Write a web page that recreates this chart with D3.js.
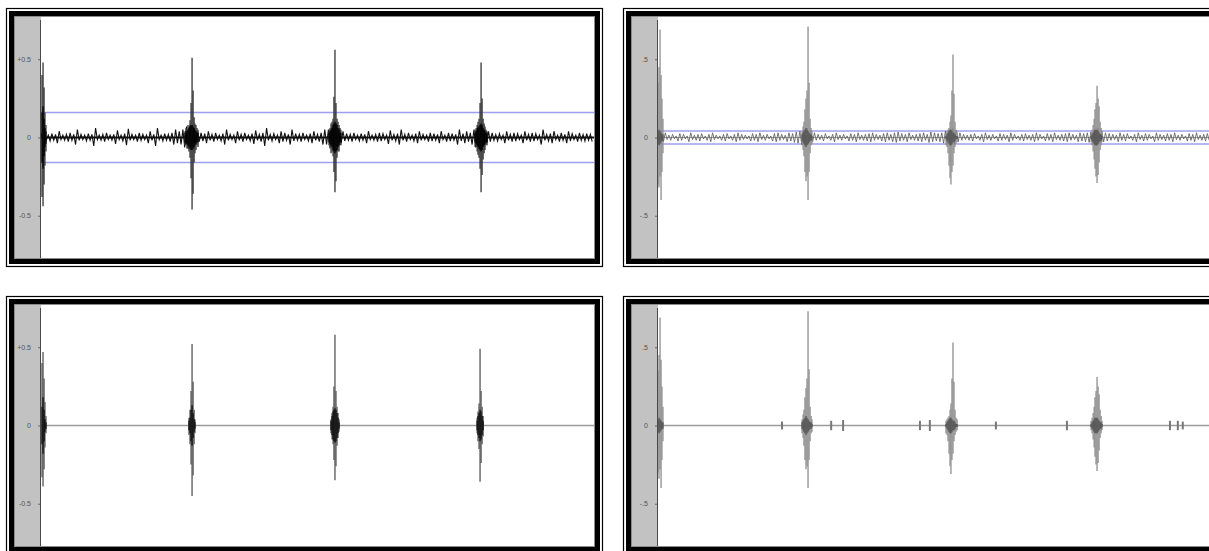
<!DOCTYPE html>
<html>
<head>
<meta charset="utf-8">
<script src="https://cdn.jsdelivr.net/npm/d3@7"></script>
<style>
  html, body { margin: 0; background: #fff; overflow: hidden; }
  svg { display: block; }
</style>
</head>
<body>
<svg id="chart" width="1209" height="551"></svg>
<script>
// ---- time / amplitude axes ----
const timeDomainMs = [0, 3800];
const ampDomain = [-0.77, 0.77];
const tickValues = [-0.5, 0, 0.5];
const leftTickLabels = ["-0.5", "0", "+0.5"];
const rightTickLabels = ["-.5", "0", ".5"];
const noiseStepMs = 25;

// ---- background noise peaks, one value per 25 ms (raw tracks) ----
const rawNoiseLeft = [
  0.03,0.02,0.015,0.025,0.02,0.04,0.015,0.02,0.03,0.02,
  0.05,0.02,0.015,0.025,0.02,0.06,0.015,0.02,0.03,0.015,
  0.02,0.045,0.015,0.025,0.055,0.02,0.015,0.03,0.02,0.015,
  0.04,0.02,0.06,0.015,0.025,0.02,0.03,0.05,0.04,0.05,
  0.07,0.08,0.06,0.04,0.03,0.025,0.04,0.02,0.03,0.015,
  0.025,0.05,0.02,0.015,0.04,0.02,0.03,0.015,0.025,0.045,
  0.02,0.03,0.06,0.02,0.025,0.015,0.04,0.03,0.02,0.05,
  0.025,0.02,0.03,0.015,0.025,0.04,0.02,0.03,0.05,0.05,
  0.07,0.09,0.06,0.04,0.025,0.02,0.03,0.015,0.025,0.02,
  0.04,0.015,0.02,0.03,0.025,0.015,0.045,0.02,0.025,0.05,
  0.02,0.03,0.015,0.025,0.04,0.02,0.015,0.03,0.025,0.02,
  0.04,0.015,0.03,0.025,0.02,0.05,0.025,0.04,0.03,0.05,
  0.07,0.08,0.05,0.04,0.03,0.02,0.025,0.015,0.04,0.02,
  0.03,0.025,0.015,0.04,0.02,0.03,0.025,0.015,0.05,0.02,
  0.025,0.04,0.015,0.03,0.02,0.04,0.025,0.015,0.03,0.02,
  0.025,0.02
];
const rawNoiseRight = [
  0.02,0.01,0.03,0.015,0.02,0.01,0.025,0.02,0.01,0.03,
  0.015,0.02,0.025,0.01,0.02,0.03,0.015,0.01,0.02,0.025,
  0.01,0.02,0.03,0.02,0.015,0.01,0.025,0.02,0.03,0.015,
  0.02,0.01,0.025,0.03,0.02,0.015,0.03,0.025,0.035,0.04,
  0.05,0.06,0.04,0.03,0.02,0.015,0.025,0.01,0.02,0.03,
  0.015,0.02,0.01,0.025,0.02,0.03,0.015,0.02,0.025,0.03,
  0.02,0.015,0.025,0.03,0.02,0.03,0.035,0.025,0.02,0.03,
  0.015,0.02,0.025,0.03,0.02,0.035,0.03,0.025,0.03,0.04,
  0.05,0.06,0.045,0.03,0.02,0.015,0.02,0.025,0.01,0.02,
  0.03,0.015,0.02,0.01,0.025,0.02,0.015,0.03,0.02,0.01,
  0.02,0.025,0.015,0.02,0.03,0.02,0.01,0.025,0.02,0.03,
  0.015,0.02,0.025,0.03,0.02,0.015,0.03,0.025,0.03,0.035,
  0.05,0.06,0.04,0.03,0.025,0.02,0.015,0.03,0.02,0.025,
  0.01,0.02,0.03,0.015,0.025,0.02,0.01,0.03,0.02,0.015,
  0.025,0.02,0.03,0.015,0.02,0.01,0.025,0.02,0.03,0.015,
  0.02,0.025
];

// ---- beat envelopes: [time ms, peak, trough, dense core half-height] ----
const rawBeatsLeft = [
  [7,0.40,-0.38,0.16],[14,0.48,-0.44,0.20],[21,0.32,-0.30,0.12],[27,0.16,-0.18,0.06],[34,0.08,-0.09,0.04],
  [990,0.04,-0.05,0.03],[997,0.06,-0.05,0.04],[1003,0.05,-0.07,0.04],[1010,0.08,-0.07,0.05],[1017,0.07,-0.09,0.06],
  [1024,0.11,-0.13,0.07],[1031,0.22,-0.26,0.08],[1038,0.51,-0.46,0.08],[1045,0.30,-0.36,0.07],[1052,0.13,-0.16,0.06],
  [1058,0.09,-0.10,0.05],[1065,0.08,-0.08,0.04],[1072,0.06,-0.05,0.03],[1079,0.05,-0.06,0.03],
  [1979,0.05,-0.05,0.03],[1986,0.06,-0.07,0.04],[1993,0.09,-0.10,0.05],[2000,0.10,-0.09,0.06],[2007,0.12,-0.12,0.08],
  [2013,0.26,-0.22,0.09],[2020,0.56,-0.35,0.10],[2027,0.22,-0.28,0.09],[2034,0.12,-0.13,0.08],[2041,0.10,-0.09,0.06],
  [2048,0.08,-0.09,0.05],[2055,0.06,-0.05,0.03],[2061,0.05,-0.05,0.03],
  [2983,0.05,-0.06,0.03],[2990,0.06,-0.06,0.04],[2997,0.08,-0.09,0.05],[3003,0.10,-0.11,0.06],[3010,0.12,-0.13,0.07],
  [3017,0.22,-0.20,0.08],[3024,0.48,-0.35,0.09],[3031,0.25,-0.24,0.08],[3038,0.12,-0.14,0.06],[3045,0.09,-0.10,0.05],
  [3051,0.07,-0.08,0.04],[3058,0.05,-0.05,0.03],[3065,0.04,-0.05,0.03]
];
const rawBeatsRight = [
  [0,0.35,-0.30,0.04],[7,0.45,-0.32,0.05],[14,0.69,-0.25,0.04],[21,0.40,-0.40,0.03],[27,0.25,-0.22,0.02],[34,0.12,-0.10,0.02],
  [990,0.04,-0.05,0.02],[997,0.07,-0.08,0.03],[1003,0.10,-0.12,0.04],[1010,0.18,-0.22,0.05],[1017,0.25,-0.28,0.06],
  [1024,0.30,-0.25,0.05],[1031,0.71,-0.40,0.04],[1038,0.35,-0.22,0.03],[1045,0.12,-0.10,0.02],[1052,0.06,-0.05,0.02],[1058,0.04,-0.04,0.01],
  [1979,0.03,-0.05,0.01],[1986,0.04,-0.06,0.02],[1993,0.05,-0.10,0.03],[2000,0.06,-0.18,0.04],[2007,0.10,-0.26,0.05],
  [2013,0.14,-0.30,0.05],[2020,0.30,-0.22,0.04],[2027,0.53,-0.18,0.03],[2034,0.28,-0.10,0.03],[2041,0.10,-0.06,0.02],
  [2048,0.05,-0.04,0.01],[2055,0.04,-0.03,0.01],
  [2976,0.03,-0.03,0.01],[2983,0.05,-0.05,0.02],[2990,0.08,-0.09,0.03],[2997,0.12,-0.14,0.04],[3003,0.18,-0.20,0.05],
  [3010,0.22,-0.25,0.05],[3017,0.33,-0.29,0.05],[3024,0.25,-0.24,0.04],[3031,0.20,-0.16,0.03],[3038,0.10,-0.08,0.02],
  [3045,0.06,-0.05,0.02],[3051,0.03,-0.03,0.01]
];
const gatedBeatsLeft = [
  [7,0.40,-0.33,0.12],[14,0.47,-0.39,0.18],[21,0.30,-0.28,0.10],[27,0.15,-0.14,0.04],[34,0.06,-0.05,0.02],
  [1017,0.05,-0.06,0.03],[1024,0.10,-0.12,0.05],[1031,0.22,-0.25,0.10],[1038,0.52,-0.45,0.13],[1045,0.28,-0.32,0.08],
  [1052,0.10,-0.12,0.04],[1058,0.04,-0.05,0.02],
  [1993,0.04,-0.05,0.03],[2000,0.08,-0.09,0.06],[2007,0.12,-0.12,0.09],[2013,0.25,-0.22,0.10],[2020,0.58,-0.35,0.11],
  [2027,0.22,-0.26,0.10],[2034,0.12,-0.13,0.08],[2041,0.08,-0.08,0.05],[2048,0.04,-0.04,0.02],
  [2997,0.05,-0.05,0.03],[3003,0.09,-0.10,0.06],[3010,0.14,-0.15,0.08],[3017,0.49,-0.36,0.10],[3024,0.22,-0.24,0.09],
  [3031,0.12,-0.12,0.06],[3038,0.06,-0.07,0.03]
];
const gatedBeatsRight = [
  [0,0.35,-0.30,0.04],[7,0.45,-0.34,0.05],[14,0.69,-0.28,0.04],[21,0.42,-0.40,0.03],[27,0.25,-0.22,0.02],[34,0.12,-0.10,0.02],
  [990,0.04,-0.05,0.02],[997,0.07,-0.08,0.03],[1003,0.10,-0.13,0.04],[1010,0.18,-0.22,0.05],[1017,0.24,-0.28,0.06],
  [1024,0.30,-0.26,0.05],[1031,0.73,-0.40,0.04],[1038,0.36,-0.22,0.03],[1045,0.12,-0.10,0.02],[1052,0.06,-0.05,0.02],[1058,0.04,-0.04,0.01],
  [1979,0.03,-0.05,0.01],[1986,0.04,-0.06,0.02],[1993,0.05,-0.10,0.03],[2000,0.06,-0.18,0.04],[2007,0.10,-0.26,0.05],
  [2013,0.14,-0.31,0.05],[2020,0.30,-0.22,0.04],[2027,0.53,-0.18,0.03],[2034,0.28,-0.10,0.03],[2041,0.10,-0.06,0.02],
  [2048,0.05,-0.04,0.01],[2055,0.04,-0.03,0.01],
  [2976,0.03,-0.03,0.01],[2983,0.05,-0.05,0.02],[2990,0.08,-0.09,0.03],[2997,0.12,-0.14,0.04],[3003,0.18,-0.20,0.05],
  [3010,0.22,-0.25,0.05],[3017,0.31,-0.29,0.05],[3024,0.25,-0.24,0.04],[3031,0.20,-0.16,0.03],[3038,0.10,-0.08,0.02],
  [3045,0.06,-0.05,0.02],[3051,0.03,-0.03,0.01]
];
// short residual clicks left after gating the right track: [time ms, peak]
const gatedClicksRight = [
  [852,0.025],[1190,0.03],[1272,0.035],[1800,0.03],[1868,0.035],[2322,0.025],[2810,0.03],[3518,0.03],[3572,0.03],[3606,0.025]
];
// detection thresholds (± amplitude)
const thresholdLeft = 0.16;
const thresholdRight = 0.042;

// ---- panel layout ----
const panels = [
  { x: 6,   y: 8,   w: 597, h: 259, beats: rawBeatsLeft,  noise: rawNoiseLeft,  clicks: [], threshold: thresholdLeft,
    labels: leftTickLabels,  wave: "#333", core: "#000", noiseColor: "#111", noiseW: 1.1, base: "#111", baseW: 2.2 },
  { x: 623, y: 8,   w: 597, h: 259, beats: rawBeatsRight, noise: rawNoiseRight, clicks: [], threshold: thresholdRight,
    labels: rightTickLabels, wave: "#8e8e8e", core: "#555", noiseColor: "#555", noiseW: 0.8, base: "#888", baseW: 0.8 },
  { x: 6,   y: 296, w: 597, h: 259, beats: gatedBeatsLeft,  noise: [], clicks: [], threshold: null,
    labels: leftTickLabels,  wave: "#555", core: "#111", noiseColor: "#333", noiseW: 1, base: "#9a9a9a", baseW: 1.6 },
  { x: 623, y: 296, w: 597, h: 259, beats: gatedBeatsRight, noise: [], clicks: gatedClicksRight, threshold: null,
    labels: rightTickLabels, wave: "#8e8e8e", core: "#555", noiseColor: "#777", noiseW: 1, base: "#9a9a9a", baseW: 1.6 }
];

const svg = d3.select("#chart");
svg.append("rect").attr("width", 1209).attr("height", 551).attr("fill", "#fff");

const STRIP = 26;   // grey ruler strip width
const INSET = 9;    // frame thickness incl. outer hairline and gap

panels.forEach((p, pi) => {
  const g = svg.append("g");
  // outer hairline
  g.append("rect").attr("x", p.x + 0.5).attr("y", p.y + 0.5)
    .attr("width", p.w - 1).attr("height", p.h - 1)
    .attr("fill", "none").attr("stroke", "#000").attr("stroke-width", 1.2);
  // heavy frame
  g.append("rect").attr("x", p.x + 3).attr("y", p.y + 3)
    .attr("width", p.w - 6).attr("height", p.h - 6).attr("fill", "#000");
  g.append("rect").attr("x", p.x + INSET - 1).attr("y", p.y + INSET - 1)
    .attr("width", p.w - 2 * INSET + 2).attr("height", p.h - 2 * INSET + 2).attr("fill", "#8c8c8c");

  const innerTop = p.y + INSET, innerBottom = p.y + p.h - INSET;
  const left = p.x + INSET, right = p.x + p.w - INSET;
  // ruler strip
  g.append("rect").attr("x", left).attr("y", innerTop)
    .attr("width", STRIP).attr("height", innerBottom - innerTop).attr("fill", "#c2c2c2");
  // plot background
  const plotL = left + STRIP;
  g.append("rect").attr("x", plotL).attr("y", innerTop)
    .attr("width", right - plotL).attr("height", innerBottom - innerTop).attr("fill", "#fff");

  const x = d3.scaleLinear().domain(timeDomainMs).range([plotL, plotL + 553]);
  const y = d3.scaleLinear().domain(ampDomain).range([innerBottom, innerTop]);

  // ruler line and labels
  g.append("line").attr("x1", plotL - 0.5).attr("x2", plotL - 0.5)
    .attr("y1", innerTop + 3).attr("y2", innerBottom)
    .attr("stroke", "#4a4a4a").attr("stroke-width", 1);
  const axis = d3.axisLeft(y).tickValues(tickValues)
    .tickFormat((d, i) => p.labels[i]).tickSize(2).tickPadding(7);
  const ag = g.append("g").attr("transform", `translate(${plotL - 1},0)`).call(axis);
  ag.select(".domain").remove();
  ag.selectAll(".tick line").attr("stroke", "#666");
  ag.selectAll("text").attr("fill", "#555")
    .style("font-family", "'Liberation Sans', 'DejaVu Sans', sans-serif").style("font-size", "7px");

  const clipId = "clip" + pi;
  svg.append("clipPath").attr("id", clipId).append("rect")
    .attr("x", plotL).attr("y", innerTop).attr("width", right - plotL).attr("height", innerBottom - innerTop);
  const plot = g.append("g").attr("clip-path", `url(#${clipId})`);

  // threshold lines
  if (p.threshold !== null) {
    [p.threshold, -p.threshold].forEach(v => {
      plot.append("line").attr("x1", plotL).attr("x2", right)
        .attr("y1", y(v)).attr("y2", y(v))
        .attr("stroke", "#9f9ff2").attr("stroke-width", 1.6);
    });
  }

  // zero baseline
  plot.append("line").attr("x1", plotL).attr("x2", right)
    .attr("y1", y(0)).attr("y2", y(0))
    .attr("stroke", p.base).attr("stroke-width", p.baseW);

  // noise trace: successive peaks alternate above and below zero
  if (p.noise.length) {
    const noiseLine = d3.line()
      .x((d, i) => x(i * noiseStepMs / 2))
      .y((d, i) => y(i % 2 ? -d : d));
    // each peak gives a positive and a negative excursion within its 25 ms slot
    const trace = p.noise.flatMap((d, i) => [d, p.noise[(i + 1) % p.noise.length] * 0.9]);
    plot.append("path").datum(trace).attr("d", noiseLine)
      .attr("fill", "none").attr("stroke", p.noiseColor).attr("stroke-width", p.noiseW)
      .attr("stroke-linejoin", "miter");
  }

  // residual clicks
  plot.append("g").selectAll("line").data(p.clicks).join("line")
    .attr("x1", d => x(d[0])).attr("x2", d => x(d[0]))
    .attr("y1", d => y(d[1])).attr("y2", d => y(-d[1]))
    .attr("stroke", "#777").attr("stroke-width", 2);

  // beat envelopes
  plot.append("g").selectAll("line").data(p.beats).join("line")
    .attr("x1", d => x(d[0])).attr("x2", d => x(d[0]))
    .attr("y1", d => y(d[1])).attr("y2", d => y(d[2]))
    .attr("stroke", p.wave).attr("stroke-width", 1.3);
  plot.append("g").selectAll("line").data(p.beats.filter(d => d[3] > 0)).join("line")
    .attr("x1", d => x(d[0])).attr("x2", d => x(d[0]))
    .attr("y1", d => y(d[3])).attr("y2", d => y(-d[3]))
    .attr("stroke", p.core).attr("stroke-width", 1.3);
});
</script>
</body>
</html>
